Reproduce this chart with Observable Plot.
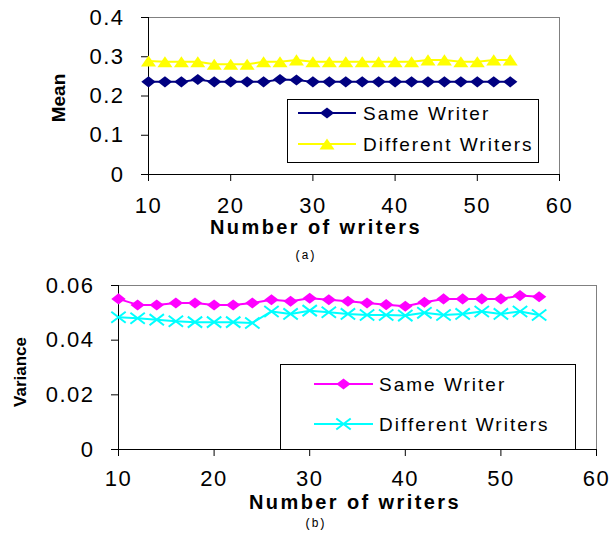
<!DOCTYPE html>
<html>
<head>
<meta charset="utf-8">
<script src="https://cdn.jsdelivr.net/npm/d3@7"></script>
<script src="https://cdn.jsdelivr.net/npm/@observablehq/plot@0.6"></script>
<style>
  html, body { margin: 0; padding: 0; background: #fff; }
  #root { position: relative; width: 612px; height: 534px; overflow: hidden; font-family: "Liberation Sans", Arial, sans-serif; }
  #root svg.plot { position: absolute; left: 0; }
  .lbl { position: absolute; white-space: nowrap; color: #000; transform: translate(-50%, -50%); line-height: 1; }
  .ylbl { position: absolute; white-space: nowrap; color: #000; transform: translate(-50%, -50%) rotate(-90deg); line-height: 1; font-weight: bold; }
  .legend { position: absolute; border: 1px solid #000; background: #fff; box-sizing: border-box; }
  .legend svg { position: absolute; left: 0; top: 0; overflow: visible; }
  .legend .txt { position: absolute; font-size: 19px; letter-spacing: 2px; white-space: nowrap; transform: translateY(-50%); line-height: 1; }
  g[aria-label="x-axis tick label"] text, g[aria-label="y-axis tick label"] text { letter-spacing: 1.5px; }
</style>
</head>
<body>
<div id="root"></div>
<script>
// ---------- data ----------
const writers = [10,12,14,16,18,20,22,24,26,28,30,32,34,36,38,40,42,44,46,48,50,52,54];
const meanSame = [0.236,0.236,0.236,0.242,0.236,0.236,0.236,0.236,0.242,0.241,0.236,0.236,0.236,0.236,0.236,0.236,0.236,0.236,0.236,0.236,0.236,0.236,0.236];
const meanDiff = [0.289,0.287,0.287,0.287,0.281,0.281,0.281,0.287,0.287,0.292,0.287,0.287,0.287,0.287,0.287,0.287,0.287,0.292,0.292,0.287,0.287,0.292,0.292];
const varSame = [0.0551,0.0529,0.0529,0.0536,0.0536,0.0529,0.0529,0.0536,0.0548,0.0542,0.0553,0.0548,0.0542,0.0536,0.0530,0.0524,0.0539,0.0551,0.0551,0.0551,0.0551,0.0563,0.0559];
const varDiff = [0.0484,0.0480,0.0475,0.0469,0.0466,0.0466,0.0466,0.0463,0.0505,0.0496,0.0508,0.0502,0.0496,0.0492,0.0492,0.0490,0.0500,0.0492,0.0496,0.0505,0.0496,0.0505,0.0492];
const xTicks = [10,20,30,40,50,60];
const meanTicks = [0,0.1,0.2,0.3,0.4];
const varTicks = [0,0.02,0.04,0.06];
const seriesNames = ["Same Writer","Different Writers"];
const xTitle = "Number of writers";

const colors = { navy: "#000080", yellow: "#FFFF00", magenta: "#FF00FF", cyan: "#00FFFF" };

// ---------- custom symbols ----------
const wideDiamond = { draw(ctx, size) { const r = Math.sqrt(size / Math.PI); const w = r * 1.2, h = r * 0.92; ctx.moveTo(-w, 0); ctx.lineTo(0, -h); ctx.lineTo(w, 0); ctx.lineTo(0, h); ctx.closePath(); } };
const triangle = { draw(ctx, size) { const r = Math.sqrt(size / Math.PI); const w = r * 1.25, h = r * 0.92; ctx.moveTo(0, -h); ctx.lineTo(w, h); ctx.lineTo(-w, h); ctx.closePath(); } };
const cross = { draw(ctx, size) { const r = Math.sqrt(size / Math.PI); const w = r * 1.2, h = r * 0.92; ctx.moveTo(-w, -h); ctx.lineTo(w, h); ctx.moveTo(-w, h); ctx.lineTo(w, -h); } };

const root = document.getElementById("root");
const tfmt = d => String(d);

function panel({top, height, mt, mb, ml, mr, ydom, yticks, s1, s2, xpad}) {
  const d1 = writers.map((x, i) => ({x, y: s1.values[i]}));
  const d2 = writers.map((x, i) => ({x, y: s2.values[i]}));
  const svg = Plot.plot({
    width: 612, height, marginTop: mt, marginBottom: mb, marginLeft: ml, marginRight: mr,
    style: { fontFamily: '"Liberation Sans", Arial, sans-serif', background: "transparent" },
    x: { domain: [10, 60] },
    y: { domain: ydom },
    marks: [
      Plot.frame({ stroke: "#808080" }),
      Plot.axisX({ ticks: xTicks, tickFormat: tfmt, tickSize: 7, tickPadding: xpad, fontSize: 22, stroke: "#000", fill: "#000", label: null }),
      Plot.axisY({ ticks: yticks, tickFormat: tfmt, tickSize: 7, tickPadding: 17, fontSize: 22, stroke: "#000", fill: "#000", label: null }),
      Plot.ruleY([ydom[0]], { stroke: "#000" }),
      Plot.ruleX([10], { stroke: "#000" }),
      Plot.line(d2, { x: "x", y: "y", stroke: s2.color, strokeWidth: 2 }),
      Plot.dot(d2, { x: "x", y: "y", symbol: s2.symbol, r: 6, fill: s2.fill, stroke: s2.stroke, strokeWidth: s2.sw }),
      Plot.line(d1, { x: "x", y: "y", stroke: s1.color, strokeWidth: 2 }),
      Plot.dot(d1, { x: "x", y: "y", symbol: s1.symbol, r: 6, fill: s1.fill, stroke: s1.stroke, strokeWidth: s1.sw })
    ]
  });
  svg.classList.add("plot");
  svg.style.top = top + "px";
  root.appendChild(svg);
}

const sTopSame = { values: meanSame, color: colors.navy, symbol: wideDiamond, fill: colors.navy, stroke: "none", sw: 0 };
const sTopDiff = { values: meanDiff, color: colors.yellow, symbol: triangle, fill: colors.yellow, stroke: "none", sw: 0 };
const sBotSame = { values: varSame, color: colors.magenta, symbol: wideDiamond, fill: colors.magenta, stroke: "none", sw: 0 };
const sBotDiff = { values: varDiff, color: colors.cyan, symbol: cross, fill: "none", stroke: colors.cyan, sw: 2 };

panel({ top: 0, height: 220, mt: 17, mb: 46, ml: 148, mr: 53, ydom: [0, 0.4], yticks: meanTicks, s1: sTopSame, s2: sTopDiff, xpad: 16 });
panel({ top: 265, height: 269, mt: 20, mb: 85, ml: 118, mr: 16, ydom: [0, 0.06], yticks: varTicks, s1: sBotSame, s2: sBotDiff, xpad: 14 });

function label(cls, text, x, y, css) {
  const d = document.createElement("div");
  d.className = cls; d.textContent = text;
  d.style.left = x + "px"; d.style.top = y + "px";
  Object.assign(d.style, css || {});
  root.appendChild(d);
}
label("ylbl", "Mean", 58, 98, { fontSize: "19px" });
label("lbl", xTitle, 316, 227, { fontSize: "20px", fontWeight: "bold", letterSpacing: "2.4px" });
label("lbl", "(a)", 305, 256, { fontSize: "12px", fontFamily: '"Liberation Mono", monospace' });
label("ylbl", "Variance", 20, 372, { fontSize: "17px" });
label("lbl", xTitle, 355, 502, { fontSize: "20px", fontWeight: "bold", letterSpacing: "2.4px" });
label("lbl", "(b)", 315, 524, { fontSize: "12px", fontFamily: '"Liberation Mono", monospace' });

function legend({left, top, width, height, rows, lineX0, lineX1, textX, items}) {
  const box = document.createElement("div");
  box.className = "legend";
  Object.assign(box.style, { left: left + "px", top: top + "px", width: width + "px", height: height + "px" });
  const svg = d3.create("svg").attr("width", width).attr("height", height);
  items.forEach((it, i) => {
    const y = rows[i] - top;
    svg.append("line").attr("x1", lineX0 - left).attr("x2", lineX1 - left).attr("y1", y).attr("y2", y)
      .attr("stroke", it.color).attr("stroke-width", 2);
    svg.append("path").attr("d", d3.symbol(it.symbol, Math.PI * 36)())
      .attr("transform", `translate(${(lineX0 + lineX1) / 2 - left},${y})`)
      .attr("fill", it.fill).attr("stroke", it.stroke).attr("stroke-width", it.sw);
    const t = document.createElement("div");
    t.className = "txt"; t.textContent = seriesNames[i];
    t.style.left = (textX - left) + "px"; t.style.top = y + "px";
    box.appendChild(t);
  });
  box.appendChild(svg.node());
  root.appendChild(box);
}
legend({ left: 287, top: 99, width: 252, height: 64, rows: [112, 143], lineX0: 297, lineX1: 355, textX: 362, items: [sTopSame, sTopDiff] });
legend({ left: 280, top: 364, width: 296, height: 86, rows: [383, 423], lineX0: 313, lineX1: 372, textX: 378, items: [sBotSame, sBotDiff] });
</script>
</body>
</html>
